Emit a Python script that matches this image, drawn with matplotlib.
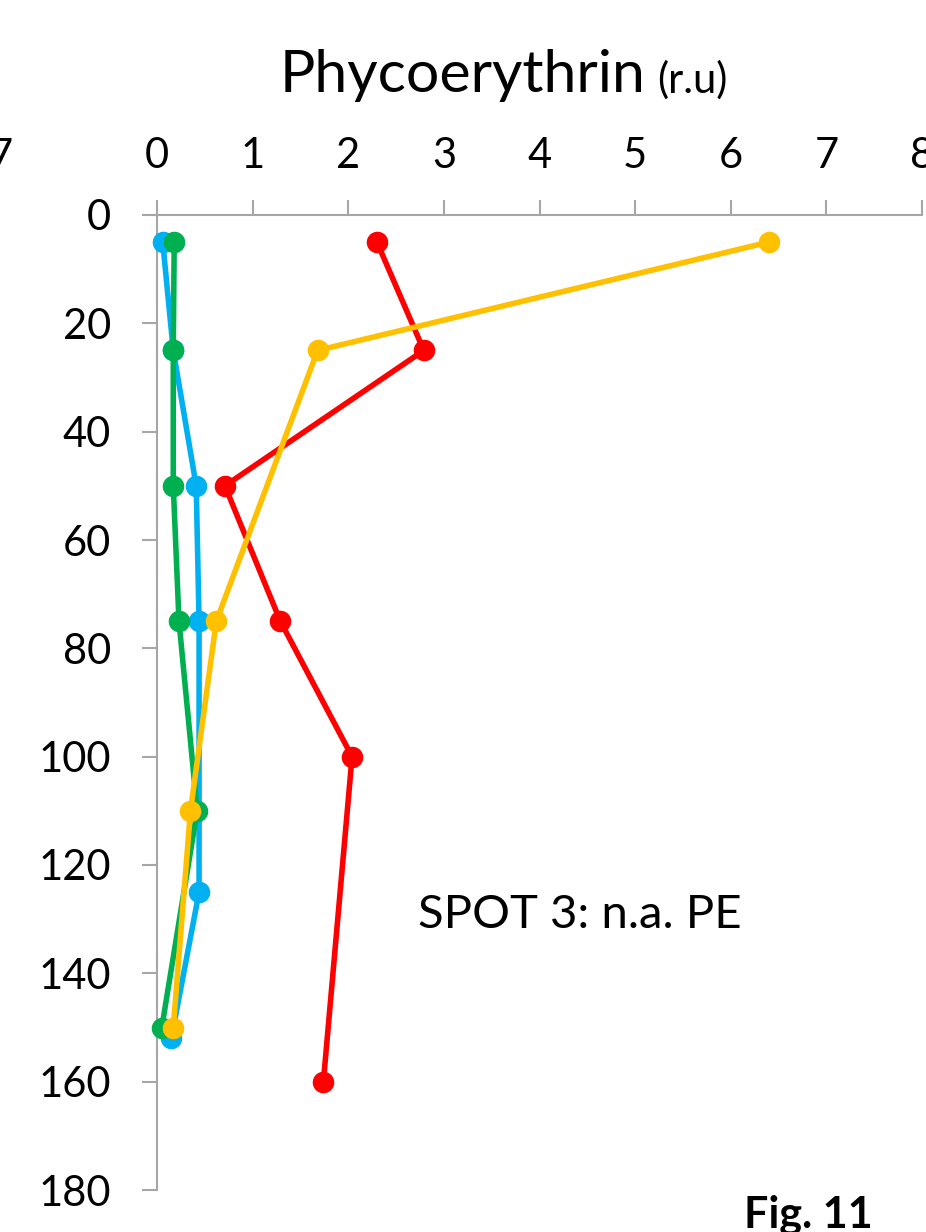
import matplotlib
matplotlib.use('Agg')
import matplotlib.pyplot as plt

plt.rcParams['font.family'] = ['Lato', 'DejaVu Sans']

# depth profiles (m) and phycoerythrin (r.u) for each series
blue_depth = [5, 25, 50, 75, 125, 152]
blue_pe = [0.06, 0.17, 0.41, 0.44, 0.44, 0.15]

green_depth = [5, 25, 50, 75, 110, 150]
green_pe = [0.18, 0.17, 0.17, 0.23, 0.42, 0.05]

red_depth = [5, 25, 50, 75, 100, 160]
red_pe = [2.30, 2.79, 0.71, 1.29, 2.04, 1.74]

yellow_depth = [5, 25, 75, 110, 150]
yellow_pe = [6.40, 1.68, 0.62, 0.35, 0.17]

x_ticks = [0, 1, 2, 3, 4, 5, 6, 7, 8]
y_ticks = [0, 20, 40, 60, 80, 100, 120, 140, 160, 180]

fig = plt.figure(figsize=(9.26, 12.32), dpi=100)
ax = fig.add_axes([157/926, 1 - 1190/1232, (922 - 157)/926, (1190 - 215)/1232])

series = [
    (blue_pe, blue_depth, '#00B0F0'),
    (green_pe, green_depth, '#00B050'),
    (red_pe, red_depth, '#FF0000'),
    (yellow_pe, yellow_depth, '#FFC000'),
]
for i, (xv, yv, c) in enumerate(series):
    ax.plot(xv, yv, color=c, lw=4.0, marker='o', ms=14.5, zorder=3 + i, clip_on=False)

ax.set_xlim(0, 8)
ax.set_ylim(180, 0)
ax.set_xticks(x_ticks)
ax.set_yticks(y_ticks)
ax.xaxis.tick_top()

ax.spines['right'].set_visible(False)
ax.spines['bottom'].set_visible(False)
for s in ['top', 'left']:
    ax.spines[s].set_color('#A6A6A6')
    ax.spines[s].set_linewidth(1.5)

ax.tick_params(axis='both', length=11, width=1.5, color='#A6A6A6', labelsize=30)
ax.tick_params(axis='x', pad=18)
ax.tick_params(axis='y', pad=22)

# title with smaller unit
fig.text(280/926, 1 - 75/1232, 'Phycoerythrin', fontsize=42.5, ha='left', va='center')
fig.text(657/926, 1 - 80/1232, '(r.u)', fontsize=30, ha='left', va='center')

# label from neighbouring panel, cut at the left edge
fig.text(13/926, 1 - 157/1232, '7', fontsize=30, ha='right', va='center')

ax.text(418/926, 1 - 915/1232, 'SPOT 3: n.a. PE', transform=fig.transFigure,
        fontsize=34, ha='left', va='center')
fig.text(808/926, 1 - 1215/1232, 'Fig. 11', fontsize=31, fontweight='bold',
         ha='center', va='center')

fig.savefig('out.png', dpi=100)
